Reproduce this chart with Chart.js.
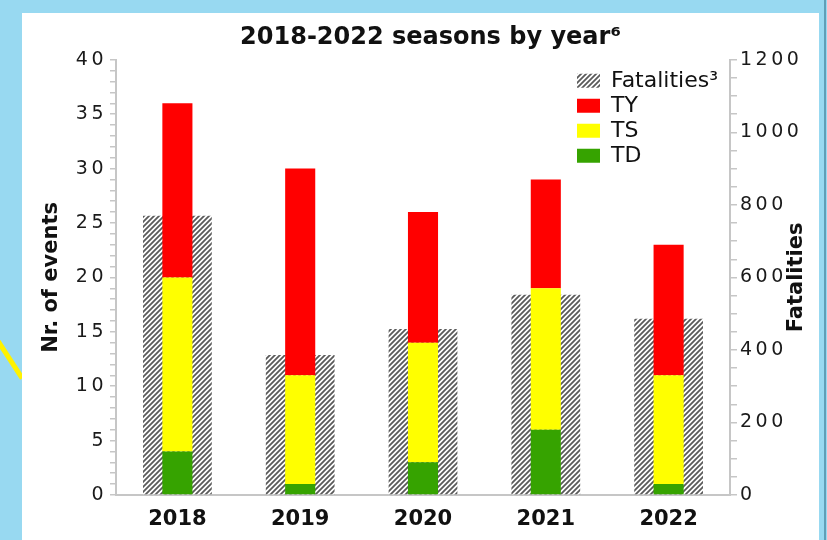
<!DOCTYPE html>
<html>
<head>
<meta charset="utf-8">
<script src="https://cdn.jsdelivr.net/npm/chart.js@4"></script>
<style>
  html, body { margin: 0; padding: 0; }
  body { width: 827px; height: 540px; background: #98d9f1; position: relative; overflow: hidden; }
  .stripe { position: absolute; left: -5px; top: 334px; width: 50px; height: 5px; background: #fff200; transform-origin: 0 50%; transform: rotate(57deg); }
  .edge { position: absolute; left: 824px; top: 0; width: 2px; height: 540px; background: #5f9fb8; }
  .panel { position: absolute; left: 22px; top: 13px; width: 797px; height: 540px; background: #fff; }
  #myChart { position: absolute; left: 0; top: 0; }
</style>
</head>
<body>
<div class="stripe"></div>
<div class="edge"></div>
<div class="panel"></div>
<canvas id="myChart" width="827" height="540"></canvas>
<script>
// values
const years = ['2018', '2019', '2020', '2021', '2022']
const tdCounts = [4, 1, 3, 6, 1]
const tsCounts = [16, 10, 11, 13, 10]
const tyCounts = [16, 19, 12, 10, 12]
const fatalities = [770, 386, 458, 552, 486]

const eventTicks = { min: 0, max: 40, major: 5 }
const fatalityTicks = { min: 0, max: 1200, major: 200 }

const myChart = document.getElementById('myChart').getContext('2d')

Chart.defaults.font.family = '"DejaVu Sans", Verdana, sans-serif'
Chart.defaults.color = '#1a1a1a'

// grey/white diagonal hatching for the fatalities bars
function makeHatch() {
    const c = document.createElement('canvas')
    c.width = 5
    c.height = 5
    const g = c.getContext('2d')
    g.fillStyle = '#ffffff'
    g.fillRect(0, 0, 5, 5)
    g.strokeStyle = '#5a5a5a'
    g.lineWidth = 1.8
    g.beginPath()
    g.moveTo(0, 5); g.lineTo(5, 0)
    g.moveTo(-1, 1); g.lineTo(1, -1)
    g.moveTo(4, 6); g.lineTo(6, 4)
    g.stroke()
    return myChart.createPattern(c, 'repeat')
}

const hatch = makeHatch()
const axisGrey = '#c6c6c6'

// axis title reading bottom-to-top at a fixed x
function upTitle(scale, x) {
    const t = scale.options.title
    const ctx = scale.ctx
    ctx.save()
    ctx.translate(x, (scale.top + scale.bottom) / 2)
    ctx.rotate(-Math.PI / 2)
    ctx.font = 'bold 21px "DejaVu Sans"'
    ctx.fillStyle = t.color
    ctx.textAlign = 'center'
    ctx.textBaseline = 'middle'
    ctx.fillText(t.text, 0, 0)
    ctx.restore()
}

// spaced tick labels, own axis titles, legend moved to top right
const tweaks = {
    id: 'tweaks',
    afterLayout(chart) {
        const lg = chart.legend
        lg.left = 574
        lg.right = lg.left + lg.width
        lg.top = chart.chartArea.top + 7
    },
    beforeDraw(chart) {
        ['y', 'y1'].forEach(function (id) {
            const s = chart.scales[id]
            if (s._patched) return
            s._patched = true
            const drawLabels = s.drawLabels
            s.drawLabels = function (area) {
                this.ctx.save()
                this.ctx.letterSpacing = '3.5px'
                drawLabels.call(this, area)
                this.ctx.restore()
            }
            s.drawTitle = function () {
                upTitle(this, id === 'y' ? this.right - 64 : this.left + 67)
            }
        })
    }
}

const chart = new Chart(myChart, {
    type: 'bar',
    data: {
        labels: years,
        datasets: [
            { label: 'TD', data: tdCounts, backgroundColor: '#36a300', yAxisID: 'y', order: 1, barPercentage: 0.245, categoryPercentage: 1 },
            { label: 'TS', data: tsCounts, backgroundColor: '#ffff00', yAxisID: 'y', order: 1, barPercentage: 0.245, categoryPercentage: 1 },
            { label: 'TY', data: tyCounts, backgroundColor: '#ff0000', yAxisID: 'y', order: 1, barPercentage: 0.245, categoryPercentage: 1 },
            { label: 'Fatalities³', data: fatalities, backgroundColor: hatch, yAxisID: 'y1', order: 2, barPercentage: 0.56, categoryPercentage: 1 }
        ]
    },
    options: {
        responsive: false,
        animation: false,
        layout: { padding: { left: 47, right: 13, top: 23, bottom: 8 } },
        scales: {
            x: {
                stacked: true,
                afterFit: function (s) { s.height = 37 },
                grid: { display: false, drawTicks: false },
                border: { display: true, color: axisGrey, width: 2 },
                ticks: { padding: 12, color: '#111', font: { size: 21, weight: 'bold' } }
            },
            y: {
                stacked: true,
                position: 'left',
                min: eventTicks.min,
                max: eventTicks.max,
                afterFit: function (s) { s.width = 69 },
                grid: { drawOnChartArea: false, tickLength: 6, color: axisGrey, lineWidth: 1.5 },
                border: { color: axisGrey, width: 2 },
                ticks: {
                    stepSize: 1,
                    autoSkip: false,
                    padding: 3,
                    font: { size: 19 },
                    callback: function (v) { return v % eventTicks.major === 0 ? v : '' }
                },
                title: { display: true, text: 'Nr. of events', color: '#111', font: { size: 21, weight: 'bold' } }
            },
            y1: {
                position: 'right',
                min: fatalityTicks.min,
                max: fatalityTicks.max,
                afterFit: function (s) { s.width = 84 },
                grid: { drawOnChartArea: false, tickLength: 7, color: axisGrey, lineWidth: 1.5 },
                border: { color: axisGrey, width: 2 },
                ticks: {
                    stepSize: 50,
                    autoSkip: false,
                    padding: 3,
                    font: { size: 19 },
                    callback: function (v) { return v % fatalityTicks.major === 0 ? v : '' }
                },
                title: { display: true, text: 'Fatalities', color: '#111', font: { size: 21, weight: 'bold' } }
            }
        },
        plugins: {
            title: {
                display: true,
                text: '2018-2022 seasons by year⁶',
                color: '#111',
                font: { size: 24, weight: 'bold' },
                padding: { top: 0, bottom: 8 }
            },
            legend: {
                position: 'chartArea',
                align: 'start',
                labels: {
                    boxWidth: 23,
                    boxHeight: 14,
                    padding: 3,
                    color: '#111',
                    font: { size: 22 },
                    sort: function (a, b) { return b.datasetIndex - a.datasetIndex }
                }
            },
            tooltip: { enabled: false }
        }
    },
    plugins: [tweaks]
})
</script>
</body>
</html>
